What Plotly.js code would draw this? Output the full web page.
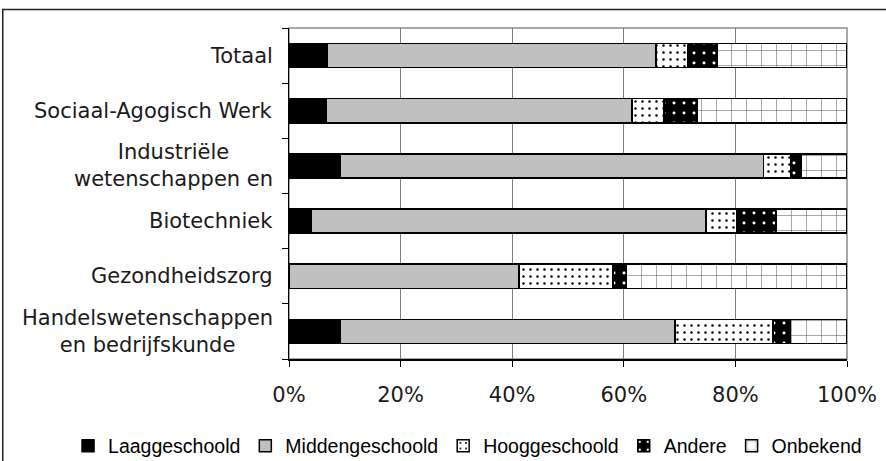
<!DOCTYPE html>
<html>
<head>
<meta charset="utf-8">
<script src="https://cdn.plot.ly/plotly-3.0.1.min.js"></script>
<style>html,body{margin:0;padding:0;background:#fff;}#chart{width:886px;height:461px;}</style>
</head>
<body>
<div id="chart"></div>
<script>
const categories = ['Totaal', 'Sociaal-Agogisch Werk', 'Industriële<br>wetenschappen en', 'Biotechniek', 'Gezondheidszorg', 'Handelswetenschappen<br>en bedrijfskunde'];
const laaggeschoold   = [6.9, 6.6, 9.2, 3.9, 0.0, 9.2];
const middengeschoold = [58.9, 54.9, 75.8, 70.8, 41.2, 60.0];
const hooggeschoold   = [5.6, 5.7, 5.0, 5.6, 16.9, 17.5];
const andere          = [5.4, 6.0, 1.8, 7.0, 2.4, 3.1];
const onbekend        = [23.2, 26.8, 8.2, 12.7, 39.5, 10.2];
const seriesNames = ['Laaggeschoold', 'Middengeschoold', 'Hooggeschoold', 'Andere', 'Onbekend'];
const xTicks = [0, 20, 40, 60, 80, 100];
const xTickLabels = ['0%', '20%', '40%', '60%', '80%', '100%'];

const line = {color: '#000', width: 1.5};
const styles = [
  {color: '#000000', line: line},
  {color: '#c0c0c0', line: line},
  {color: '#ffffff', line: line, pattern: {shape: '.', fgcolor: '#000', bgcolor: '#fff', size: 7, solidity: 0.1}},
  {color: '#000000', line: line, pattern: {shape: '.', fgcolor: '#fff', bgcolor: '#000', size: 10, solidity: 0.07}},
  {color: '#ffffff', line: line, pattern: {shape: '+', fgcolor: '#222', bgcolor: '#fff', size: 15, solidity: 0.07, fgopacity: 0.75}}
];
const values = [laaggeschoold, middengeschoold, hooggeschoold, andere, onbekend];

const traces = values.map((v, i) => ({
  type: 'bar', orientation: 'h', name: seriesNames[i],
  x: v, y: categories, marker: styles[i], hoverinfo: 'x+name'
}));

const labelFont = {family: 'DejaVu Sans, Verdana, sans-serif', size: 21, color: '#1a1a1a'};
const annotations = categories.map(c => ({
  x: 0, xref: 'paper', y: c, yref: 'y', text: c, showarrow: false,
  xanchor: 'right', yanchor: 'middle', align: 'center', xshift: -14, font: labelFont
}));

const boundaries = [];
for (let i = 0; i <= categories.length; i++) boundaries.push(i - 0.5);

const layout = {
  width: 886, height: 461,
  margin: {l: 289, r: 39, t: 28, b: 102, autoexpand: false},
  paper_bgcolor: '#fff', plot_bgcolor: '#fff',
  barmode: 'stack', bargap: 0.56,
  showlegend: true,
  legend: {orientation: 'h', x: -0.396, xanchor: 'left', y: -0.263, yanchor: 'middle',
    font: {family: 'Liberation Sans, Arial, sans-serif', size: 19.5, color: '#000'},
    itemwidth: 30, tracegroupgap: 0, traceorder: 'normal', borderwidth: 0},
  xaxis: {range: [0, 100], tickvals: xTicks, ticktext: xTickLabels, ticks: 'outside', ticklen: 6,
    tickcolor: '#000', tickwidth: 1, showgrid: true, gridcolor: '#7f7f7f', gridwidth: 1,
    zeroline: false, showline: true, linecolor: '#000', linewidth: 1.5,
    ticklabelstandoff: 10, tickfont: labelFont, fixedrange: true, automargin: false},
  yaxis: {type: 'category', categoryorder: 'array', categoryarray: categories,
    range: [categories.length - 0.5, -0.5], showticklabels: false, ticks: '', showgrid: false,
    zeroline: false, showline: false, fixedrange: true, automargin: false},
  yaxis2: {overlaying: 'y', range: [categories.length - 0.5, -0.5], tickvals: boundaries,
    ticks: 'outside', ticklen: 6, tickcolor: '#000', showticklabels: false, showgrid: false,
    zeroline: false, showline: true, linecolor: '#000', linewidth: 1.5, fixedrange: true},
  annotations: annotations,
  shapes: [
    {type: 'rect', xref: 'paper', yref: 'paper', x0: -0.513, x1: 1.08, y0: -0.33, y1: 1.056,
      line: {color: '#222', width: 1.5}, layer: 'below'},
    {type: 'rect', xref: 'paper', yref: 'paper', x0: 0, x1: 1, y0: 0, y1: 1,
      line: {color: '#8a8a8a', width: 1.5}, layer: 'below'}
  ]
};

traces.push({type: 'scatter', x: [null], y: [null], yaxis: 'y2', showlegend: false, hoverinfo: 'skip'});

Plotly.newPlot('chart', traces, layout, {displayModeBar: false, staticPlot: true});
</script>
</body>
</html>
